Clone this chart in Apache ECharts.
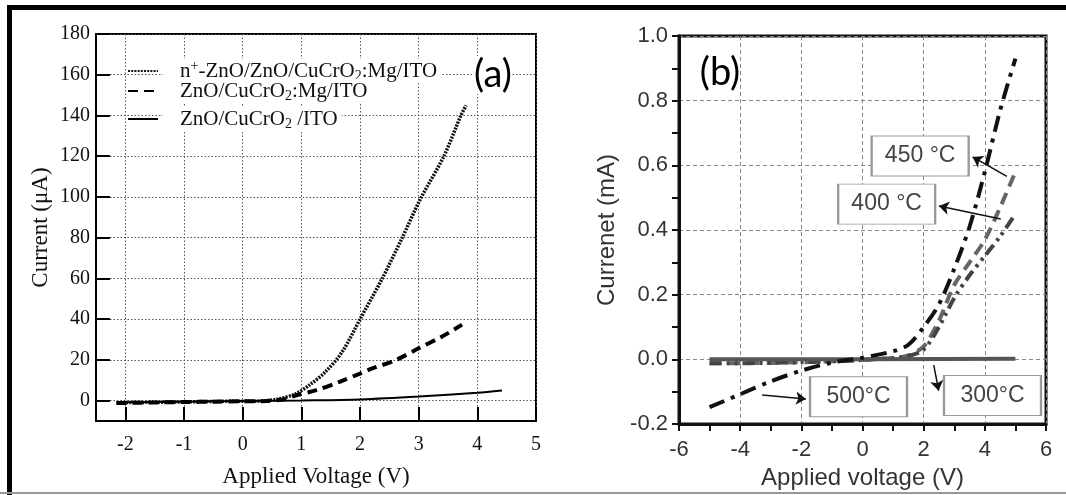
<!DOCTYPE html>
<html>
<head>
<meta charset="utf-8">
<script src="https://cdn.jsdelivr.net/npm/echarts@6/dist/echarts.min.js"></script>
<style>
html, body { margin: 0; padding: 0; background: #fff; }
#chart { width: 1066px; height: 495px; }
</style>
</head>
<body>
<div id="chart"></div>
<script>
// panel (a): [voltage V, current uA]
var nZnO = [[-2.15, -1.0], [-1.5, -0.8], [-1, -0.6], [-0.5, -0.4], [0, -0.3], [0.33, -0.2], [0.61, 0.8], [0.9, 3.3], [1.13, 7.5], [1.41, 14.1], [1.7, 24.1], [2.01, 40.5], [2.38, 60], [2.72, 80], [3.03, 99], [3.43, 120], [3.72, 140], [3.81, 145]];
var mgZnO = [[-2.15, -1.2], [-1.5, -0.9], [-1, -0.7], [-0.5, -0.5], [0, -0.3], [0.4, -0.2], [0.73, 0.8], [0.9, 2.5], [1.24, 5.0], [1.64, 9.1], [2.0, 13.3], [2.21, 15.8], [2.61, 19.9], [3.0, 25.7], [3.4, 31.5], [3.74, 37.3]];
var plainZnO = [[-2.15, -0.8], [-1, -0.5], [0, -0.2], [1, 0.1], [2, 0.6], [3, 2.0], [4, 3.9], [4.42, 5.0]];
var namesA = ['n+-ZnO/ZnO/CuCrO2:Mg/ITO', 'ZnO/CuCrO2:Mg/ITO', 'ZnO/CuCrO2 /ITO'];
var legendTextA = ['n{sup|+}-ZnO/ZnO/CuCrO{sub|2}:Mg/ITO', 'ZnO/CuCrO{sub|2}:Mg/ITO', 'ZnO/CuCrO{sub|2} /ITO'];

// panel (b): [voltage V, current mA]
var t500 = [[-5, -0.148], [-4, -0.108], [-3, -0.068], [-2, -0.035], [-1, -0.01], [0, 0.005], [1, 0.025], [1.5, 0.045], [2, 0.1], [2.5, 0.17], [3, 0.28], [3.5, 0.41], [4, 0.58], [4.5, 0.77], [5, 0.93]];
var t450 = [[-5, -0.012], [-4, -0.012], [-3, -0.011], [-2, -0.009], [-1, -0.006], [0, -0.002], [1, 0.004], [1.5, 0.012], [2, 0.04], [2.5, 0.12], [3, 0.23], [3.5, 0.3], [4, 0.37], [4.5, 0.47], [5, 0.58]];
var t400 = [[-5, -0.012], [-4, -0.012], [-3, -0.011], [-2, -0.009], [-1, -0.006], [0, -0.002], [1, 0.004], [1.5, 0.01], [2, 0.03], [2.5, 0.1], [3, 0.19], [3.5, 0.26], [4, 0.32], [4.5, 0.38], [5, 0.45]];
var t300 = [[-5, 0], [-2.5, 0], [0, 0], [2.5, 0.001], [5, 0.002]];
var annoLabels = ['450 °C', '400 °C', '500°C', '300°C'];

var serif = 'Liberation Serif';
var sans = 'Liberation Sans';

var chart = echarts.init(document.getElementById('chart'), null, { renderer: 'canvas' });

function legendA (i, top) {
  return {
    data: [namesA[i]],
    orient: 'vertical',
    left: 127,
    top: top,
    padding: 0,
    itemWidth: 30,
    itemHeight: 14,
    selectedMode: false,
    itemStyle: { opacity: 0 },
    formatter: function () { return legendTextA[i]; },
    textStyle: {
      fontFamily: serif,
      fontSize: 21,
      color: '#111',
      lineHeight: 24,
      backgroundColor: '#fff',
      padding: [0, 4, 0, 17],
      rich: {
        sup: { fontFamily: serif, fontSize: 14, lineHeight: 14, color: '#111', verticalAlign: 'top' },
        sub: { fontFamily: serif, fontSize: 14, lineHeight: 14, color: '#111', verticalAlign: 'bottom' }
      }
    }
  };
}

var option = {
  animation: false,
  backgroundColor: '#fff',
  grid: [
    { left: 96, top: 34, width: 440, height: 387, show: true, borderColor: '#000', borderWidth: 2, backgroundColor: 'transparent' },
    { left: 679, top: 36, width: 367, height: 388, show: true, borderColor: '#111', borderWidth: 3, backgroundColor: 'transparent' }
  ],
  legend: [legendA(0, 59), legendA(1, 79), legendA(2, 107)],
  xAxis: [{
    gridIndex: 0,
    type: 'value',
    min: -2.5,
    max: 5,
    splitNumber: 8,
    name: 'Applied Voltage (V)',
    nameLocation: 'middle',
    nameGap: 44,
    nameTextStyle: { fontFamily: serif, fontSize: 23, color: '#111' },
    axisLine: { show: true, onZero: false, lineStyle: { color: '#000', width: 2 } },
    axisTick: { show: true, inside: true, length: 14, lineStyle: { color: '#000', width: 2 } },
    axisLabel: {
      margin: 14, fontFamily: serif, fontSize: 20, color: '#111',
      formatter: function (v) { return Number.isInteger(v) ? String(v) : ''; }
    },
    splitLine: { show: true, lineStyle: { color: '#555', width: 1, type: [1.5, 2] } }
  }, {
    gridIndex: 1,
    type: 'value',
    min: -6,
    max: 6,
    interval: 2,
    name: 'Applied voltage (V)',
    nameLocation: 'middle',
    nameGap: 42,
    nameTextStyle: { fontFamily: sans, fontSize: 24, color: '#333' },
    axisLine: { show: true, onZero: false, lineStyle: { color: '#111', width: 3 } },
    axisTick: { show: true, inside: false, length: 7, lineStyle: { color: '#111', width: 2 } },
    minorTick: { show: true, splitNumber: 2, length: 7, lineStyle: { color: '#111', width: 2 } },
    axisLabel: { margin: 15, fontFamily: sans, fontSize: 22, color: '#333' },
    splitLine: { show: true, lineStyle: { color: '#888', width: 1, type: [4, 3] } }
  }],
  yAxis: [{
    gridIndex: 0,
    type: 'value',
    min: -10,
    max: 180,
    splitNumber: 10,
    name: 'Current (μA)',
    nameLocation: 'middle',
    nameGap: 44,
    nameTextStyle: { fontFamily: serif, fontSize: 23, color: '#111' },
    axisLine: { show: true, onZero: false, lineStyle: { color: '#000', width: 2 } },
    axisTick: { show: true, inside: true, length: 14, lineStyle: { color: '#000', width: 2 } },
    axisLabel: {
      margin: 6, fontFamily: serif, fontSize: 20, color: '#111',
      formatter: function (v) { return v % 20 === 0 ? String(v) : ''; }
    },
    splitLine: { show: true, lineStyle: { color: '#555', width: 1, type: [1.5, 2] } }
  }, {
    gridIndex: 1,
    type: 'value',
    min: -0.2,
    max: 1.0,
    interval: 0.2,
    name: 'Currenet (mA)',
    nameLocation: 'middle',
    nameGap: 60,
    nameTextStyle: { fontFamily: sans, fontSize: 24, color: '#333' },
    axisLine: { show: true, onZero: false, lineStyle: { color: '#111', width: 3 } },
    axisTick: { show: true, inside: false, length: 7, lineStyle: { color: '#111', width: 2 } },
    minorTick: { show: true, splitNumber: 2, length: 7, lineStyle: { color: '#111', width: 2 } },
    axisLabel: {
      margin: 11, fontFamily: sans, fontSize: 22, color: '#333',
      formatter: function (v) { return v.toFixed(1); }
    },
    splitLine: { show: true, lineStyle: { color: '#888', width: 1, type: [4, 3] } }
  }],
  series: [{
    name: namesA[0], type: 'line', xAxisIndex: 0, yAxisIndex: 0, data: nZnO,
    symbol: 'none', smooth: 0.3,
    itemStyle: { color: '#111' },
    lineStyle: { color: '#111', width: 3.5, type: [2, 1.2] }
  }, {
    name: namesA[1], type: 'line', xAxisIndex: 0, yAxisIndex: 0, data: mgZnO,
    symbol: 'none', smooth: 0.3,
    itemStyle: { color: '#000' },
    lineStyle: { color: '#000', width: 4, type: [10, 6] }
  }, {
    name: namesA[2], type: 'line', xAxisIndex: 0, yAxisIndex: 0, data: plainZnO,
    symbol: 'none', smooth: 0.3,
    itemStyle: { color: '#000' },
    lineStyle: { color: '#000', width: 2 }
  }, {
    name: '450', type: 'line', xAxisIndex: 1, yAxisIndex: 1, data: t450,
    symbol: 'none', smooth: 0.3,
    lineStyle: { color: '#666', width: 4, type: [12, 7] }
  }, {
    name: '400', type: 'line', xAxisIndex: 1, yAxisIndex: 1, data: t400,
    symbol: 'none', smooth: 0.3,
    lineStyle: { color: '#444', width: 4, type: [12, 5, 3, 5, 3, 5] }
  }, {
    name: '300', type: 'line', xAxisIndex: 1, yAxisIndex: 1, data: t300,
    symbol: 'none',
    lineStyle: { color: '#555', width: 4 }
  }, {
    name: '500', type: 'line', xAxisIndex: 1, yAxisIndex: 1, data: t500,
    symbol: 'none', smooth: 0.3, z: 3,
    lineStyle: { color: '#111', width: 4, type: [16, 7, 4, 7] },
    markLine: {
      silent: true,
      symbol: ['none', 'arrow'],
      symbolSize: 10,
      label: { show: false },
      lineStyle: { color: '#111', width: 1.5, type: 'solid' },
      data: [
        [{ coord: [4.72, 0.566] }, { coord: [3.6, 0.626] }],
        [{ coord: [4.52, 0.434] }, { coord: [2.5, 0.474] }],
        [{ coord: [-3.28, -0.11] }, { coord: [-1.85, -0.123] }],
        [{ coord: [2.33, -0.018] }, { coord: [2.49, -0.097] }]
      ]
    },
    markPoint: {
      silent: true,
      symbol: 'rect',
      symbolSize: [97, 40],
      itemStyle: { color: '#fff', borderColor: '#999', borderWidth: 1.5 },
      label: {
        show: true, position: 'inside', color: '#444', fontSize: 23, fontFamily: sans,
        formatter: function (p) { return p.name; }
      },
      data: [
        { name: annoLabels[0], coord: [1.885, 0.629] },
        { name: annoLabels[1], coord: [0.79, 0.48] },
        { name: annoLabels[2], coord: [-0.13, -0.116] },
        { name: annoLabels[3], coord: [4.25, -0.112] }
      ]
    }
  }],
  graphic: [
    { type: 'rect', shape: { x: 7, y: 5, width: 1059, height: 5 }, style: { fill: '#000' } },
    { type: 'rect', shape: { x: 7, y: 5, width: 5, height: 490 }, style: { fill: '#000' } },
    { type: 'rect', shape: { x: 0, y: 492, width: 1066, height: 2 }, style: { fill: '#999' } },
    {
      type: 'text', x: 493, y: 75, z: 100,
      style: { text: '(a)', font: '38px Lato', fill: '#000', align: 'center', verticalAlign: 'middle', textAlign: 'center', textVerticalAlign: 'middle', backgroundColor: '#fff' }
    },
    {
      type: 'text', x: 720, y: 73, z: 100,
      style: { text: '(b)', font: '38px Lato', fill: '#000', align: 'center', verticalAlign: 'middle', textAlign: 'center', textVerticalAlign: 'middle' }
    }
  ]
};

chart.setOption(option);
</script>
</body>
</html>
